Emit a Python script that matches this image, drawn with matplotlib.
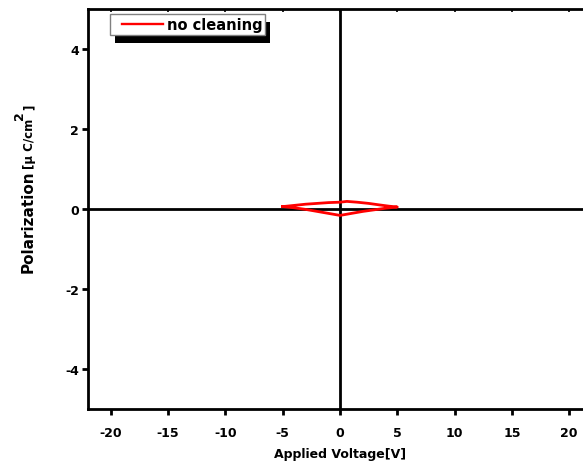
import matplotlib
matplotlib.use("Agg")
import matplotlib.pyplot as plt
from matplotlib.patches import Rectangle
from matplotlib.transforms import IdentityTransform
from matplotlib.legend_handler import HandlerLine2D

plt.rcParams['font.family'] = ['DejaVu Sans']
plt.rcParams['font.weight'] = 'bold'

# Data: hysteresis loop (Applied Voltage [V], Polarization [uC/cm^2])
voltage = [-5.0, -4.0, -3.0, -2.0, -1.0, 0.0, 0.6, 1.5, 2.5, 3.5, 4.3, 5.0,
           4.0, 3.0, 2.0, 1.0, 0.0, -1.0, -2.0, -3.0, -4.0, -5.0]
polarization = [0.06, 0.09, 0.12, 0.14, 0.16, 0.17, 0.19, 0.17, 0.14, 0.10, 0.07, 0.05,
                0.02, -0.02, -0.06, -0.11, -0.16, -0.11, -0.06, -0.01, 0.03, 0.06]
series_label = "no cleaning"
xticks = [-20, -15, -10, -5, 0, 5, 10, 15, 20]
yticks = [-4, -2, 0, 2, 4]

fig = plt.figure(figsize=(5.83, 4.64), dpi=100)
W, H = 583, 464
ax = fig.add_axes([88 / W, (H - 410) / H, 504 / W, 400 / H])

ax.axhline(0, color='black', lw=2.0, zorder=2)
ax.axvline(0, color='black', lw=2.0, zorder=2)
ax.plot(voltage, polarization, color='#ff0000', lw=2.0, zorder=3, label=series_label)

ax.set_xlim(-22, 22)
ax.set_ylim(-5, 5)
ax.set_xticks(xticks)
ax.set_yticks(yticks)
ax.set_xticklabels([str(t) for t in xticks], fontsize=9, fontweight='bold')
ax.set_yticklabels([str(t) for t in yticks], fontsize=9, fontweight='bold')

for s in ax.spines.values():
    s.set_linewidth(2.0)
ax.tick_params(axis='x', which='major', direction='out', length=4.5, width=2.0, pad=8,
               top=False)
ax.tick_params(axis='y', which='major', direction='out', length=4.5, width=2.0, pad=2,
               right=False)

# short inward ticks on the top spine
axt = ax.twiny()
axt.set_xlim(ax.get_xlim())
axt.set_xticks(xticks)
axt.tick_params(axis='x', direction='in', length=2, width=1.2, labeltop=False)
for s in axt.spines.values():
    s.set_visible(False)

ax.set_xlabel("Applied Voltage[V]", fontsize=9, fontweight='bold', labelpad=5.5)

fs_leg = 10.5
leg = axt.legend(*ax.get_legend_handles_labels(), loc='upper left',
                 bbox_to_anchor=(110 / W, 1 - 15 / H),
                 bbox_transform=fig.transFigure, fancybox=False, framealpha=1.0,
                 frameon=True, borderpad=0.2, handlelength=3.42, handletextpad=0.27,
                 borderaxespad=0, prop={'weight': 'bold', 'size': fs_leg},
                 handler_map={plt.Line2D: HandlerLine2D(xpad=0.62)})
leg.get_frame().set_edgecolor('#808080')
leg.get_frame().set_linewidth(1.0)
leg.get_frame().set_facecolor('white')
for ln in leg.get_lines():
    ln.set_linewidth(1.7)
leg.set_zorder(10)

# y label with mixed sizes
t1 = fig.text(33 / W, 1 - 273 / H, "Polarization", rotation=90, fontsize=11,
              fontweight='bold', ha='left', va='baseline', rotation_mode='anchor')
fig.canvas.draw()
e1 = t1.get_window_extent()
t2 = fig.text(33 / W, (e1.y1 + 1) / H, "[μ C/cm", rotation=90, fontsize=8.5,
              fontweight='bold', ha='left', va='baseline', rotation_mode='anchor')
fig.canvas.draw()
e2 = t2.get_window_extent()
t3 = fig.text(23 / W, (e2.y1 - 1) / H, "2", rotation=90, fontsize=9,
              fontweight='bold', ha='left', va='baseline', rotation_mode='anchor')
fig.canvas.draw()
e3 = t3.get_window_extent()
fig.text(33 / W, (e3.y1 + 1) / H, "]", rotation=90, fontsize=8.5,
         fontweight='bold', ha='left', va='baseline', rotation_mode='anchor')

fig.canvas.draw()
bb = leg.get_window_extent()
shadow = Rectangle((bb.x0 + 5, bb.y0 - 8), bb.width, bb.height, transform=IdentityTransform(),
                   facecolor='black', edgecolor='none', zorder=9, clip_on=False)
axt.add_artist(shadow)

fig.savefig("out.png", dpi=100)
